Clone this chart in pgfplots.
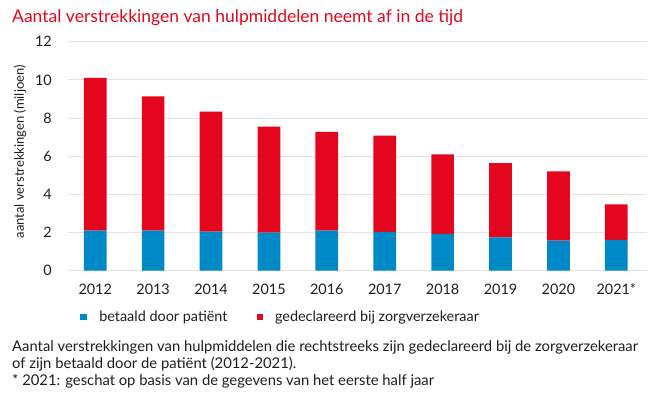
\documentclass[border=0pt]{standalone}
\usepackage{fontspec}
\setmainfont{Lato}
\usepackage{pgfplots}
\pgfplotsset{compat=1.18}
\definecolor{cblue}{RGB}{0,137,199}
\definecolor{cred}{RGB}{227,6,30}
\definecolor{ctext}{RGB}{30,30,30}
\definecolor{cgrid}{RGB}{228,228,228}
\begin{document}
\begin{tikzpicture}[x=1pt,y=1pt]
\path[use as bounding box] (0,0) rectangle (656,396);
\begin{axis}[
  at={(68pt,125.3pt)}, anchor=south west,
  scale only axis, width=579pt, height=229pt,
  ybar stacked, bar width=0.392,
  xmin=-0.47, xmax=9.53, ymin=0, ymax=12,
  xtick={0,...,9},
  xticklabels={2012,2013,2014,2015,2016,2017,2018,2019,2020,2021*},
  ytick={0,2,4,6,8,10,12},
  major tick length=0pt,
  axis line style={draw=none},
  ymajorgrids, grid style={cgrid, line width=0.9pt},
  /pgf/number format/assume math mode=true,
  ticklabel style={font=\fontsize{14.4}{16}\selectfont, text=ctext},
  yticklabel style={anchor=east, inner sep=0pt, xshift=-16pt},
  xticklabel style={anchor=north, inner sep=0pt, yshift=-13pt},
  legend style={at={(0.0207,-0.2022)}, anchor=west, draw=none, fill=none,
    inner sep=0pt, outer sep=0pt, column sep=0pt, row sep=0pt,
    nodes={inner sep=0pt, outer sep=0pt, font=\fontsize{14.4}{16}\selectfont, text=ctext},
    legend columns=2},
]
\addplot[fill=cblue, draw=none,
  legend image code/.code={\fill[cblue] (0pt,-3.4pt) rectangle (6.8pt,3.4pt); \path (19.3pt,0pt);}]
  coordinates {(0,2.1) (1,2.1) (2,2.05) (3,2.0) (4,2.1) (5,2.03) (6,1.93) (7,1.74) (8,1.58) (9,1.61)};
\addplot[fill=cred, draw=none,
  legend image code/.code={\path (-29pt,0pt); \fill[cred] (0pt,-3.4pt) rectangle (6.8pt,3.4pt); \path (18.5pt,0pt);}]
  coordinates {(0,8.0) (1,7.03) (2,6.28) (3,5.55) (4,5.18) (5,5.05) (6,4.16) (7,3.9) (8,3.63) (9,1.86)};
\legend{betaald door patiënt, gedeclareerd bij zorgverzekeraar}
\end{axis}
\node[anchor=base west, inner sep=0pt, text=cred, font=\fontsize{17.5}{20}\selectfont] at (12,373) {Aantal verstrekkingen van hulpmiddelen neemt af in de tijd};
\node[rotate=90, inner sep=0pt, text=ctext, font=\fontsize{13}{15}\selectfont] at (20,244.3) {aantal verstrekkingen (miljoen)};
\node[anchor=base west, inner sep=0pt, text=ctext, font=\fontsize{14.8}{16}\selectfont] at (12,44.3) {Aantal verstrekkingen van hulpmiddelen die rechtstreeks zijn gedeclareerd bij de zorgverzekeraar};
\node[anchor=base west, inner sep=0pt, text=ctext, font=\fontsize{14.8}{16}\selectfont] at (12,27) {of zijn betaald door de patiënt (2012-2021).};
\node[anchor=base west, inner sep=0pt, text=ctext, font=\fontsize{14.8}{16}\selectfont] at (12,10) {* 2021: geschat op basis van de gegevens van het eerste half jaar};
\end{tikzpicture}
\end{document}
